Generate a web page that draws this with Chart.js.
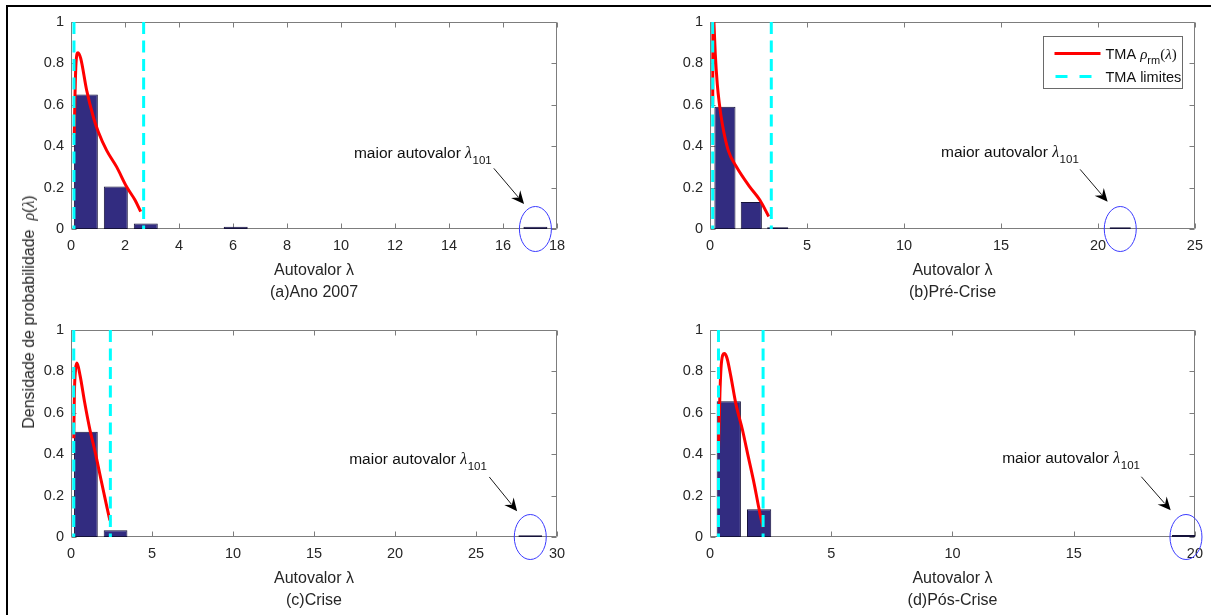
<!DOCTYPE html>
<html>
<head>
<meta charset="utf-8">
<style>
html,body{margin:0;padding:0;background:#fff;width:1211px;height:615px;overflow:hidden;position:relative}
canvas{position:absolute}
#frame{position:absolute;left:6px;top:5px;width:1215px;height:620px;border-top:2px solid #000;border-left:2px solid #000;box-sizing:border-box}
#ylab{position:absolute;left:29px;top:312px;transform:translate(-50%,-50%) rotate(-90deg);white-space:nowrap;font:16px "Liberation Sans",Arial,sans-serif;color:#262626}
#ylab i{font-family:"Liberation Serif",serif}
</style>
<script src="https://cdn.jsdelivr.net/npm/chart.js"></script>
</head>
<body>
<div id="frame"></div>
<canvas id="cA" width="605" height="307" style="left:0;top:0"></canvas>
<canvas id="cB" width="606" height="307" style="left:605px;top:0"></canvas>
<canvas id="cC" width="605" height="307" style="left:0;top:308px"></canvas>
<canvas id="cD" width="606" height="307" style="left:605px;top:308px"></canvas>
<div id="ylab">Densidade de probabilidade&nbsp;&nbsp;<i>ρ</i>(<i>λ</i>)</div>
<script>
// ---------------- data ----------------
const yTicks = [0, 0.2, 0.4, 0.6, 0.8, 1];

// (a) Ano 2007
const xTicksA = [0, 2, 4, 6, 8, 10, 12, 14, 16, 18];
const binsA = [0.55, 1.66, 2.77, 6.10, 17.20];
const densA = [0.650, 0.205, 0.027, 0.011, 0.011];
const mpXA = [0.12, 0.15, 0.185, 0.26, 0.36, 0.58, 0.83, 1.01, 1.32, 1.69, 2.06, 2.37, 2.58];
const mpYA = [0.454, 0.655, 0.80, 0.852, 0.824, 0.67, 0.54, 0.47, 0.38, 0.30, 0.204, 0.14, 0.084];
const limA = [0.11, 2.69];

// (b) Pré-Crise
const xTicksB = [0, 5, 10, 15, 20, 25];
const binsB = [0.77, 2.13, 3.49, 21.15];
const densB = [0.590, 0.131, 0.009, 0.009];
const mpXB = [0.14, 0.155, 0.205, 0.27, 0.375, 0.48, 0.63, 0.94, 1.37, 2.05, 2.57, 3.03];
const mpYB = [0.60, 1.10, 0.994, 0.85, 0.70, 0.607, 0.51, 0.38, 0.30, 0.204, 0.14, 0.06];
const limB = [0.14, 3.16];

// (c) Crise
const xTicksC = [0, 5, 10, 15, 20, 25, 30];
const binsC = [0.92, 2.75, 28.35];
const densC = [0.509, 0.0325, 0.008];
const mpXC = [0.17, 0.21, 0.28, 0.37, 0.57, 0.85, 1.15, 1.51, 1.86, 2.17, 2.40];
const mpYC = [0.477, 0.695, 0.81, 0.84, 0.776, 0.647, 0.525, 0.404, 0.274, 0.161, 0.08];
const limC = [0.17, 2.43];

// (d) Pós-Crise
const xTicksD = [0, 5, 10, 15, 20];
const binsD = [0.775, 2.025, 19.55];
const densD = [0.656, 0.134, 0.010];
const mpXD = [0.35, 0.41, 0.47, 0.59, 0.70, 0.86, 1.06, 1.34, 1.58, 1.82, 1.98, 2.12, 2.19];
const mpYD = [0.42, 0.695, 0.84, 0.886, 0.865, 0.776, 0.647, 0.517, 0.387, 0.258, 0.161, 0.08, 0.048];
const limD = [0.35, 2.19];

const titles = {
  A: ['Autovalor λ', '(a)Ano 2007'],
  B: ['Autovalor λ', '(b)Pré-Crise'],
  C: ['Autovalor λ', '(c)Crise'],
  D: ['Autovalor λ', '(d)Pós-Crise']
};

// annotation anchors (data units): text start, arrow tail, arrow head
const annA = {eig: 17.20, text: [10.48, 0.343], tail: [15.66, 0.293], head: [16.78, 0.121]};
const annB = {eig: 21.15, text: [11.91, 0.350], tail: [19.08, 0.288], head: [20.50, 0.132]};
const annC = {eig: 28.35, text: [17.17, 0.352], tail: [25.82, 0.290], head: [27.54, 0.124]};
const annD = {eig: 19.63, text: [12.05, 0.358], tail: [17.79, 0.291], head: [19.00, 0.129]};

// ---------------- styling ----------------
const FONT = '"Liberation Sans", Arial, Helvetica, sans-serif';
const SERIF = '"Liberation Serif", "DejaVu Serif", serif';
const TXT = '#262626';
const AXC = '#7d7d7d';
const BAR = '#322c80';
const BAR_EDGE = '#15123a';
const RED = '#ff0000';
const CYAN = '#00ffff';
const DASH = [12, 6.5];

const boxPlugin = {
  id: 'matlabBox',
  beforeDatasetsDraw(chart) {
    const {ctx, chartArea: a, scales: {x, y}} = chart;
    ctx.save();
    ctx.strokeStyle = AXC;
    ctx.lineWidth = 1;
    const L = Math.round(a.left) + 0.5, R = Math.round(a.right) - 0.5;
    const T = Math.round(a.top) + 0.5, B = Math.round(a.bottom) - 0.5;
    const tl = 5;
    ctx.beginPath();
    ctx.rect(L, T, R - L, B - T);
    x.ticks.forEach(t => {
      const px = Math.round(x.getPixelForValue(t.value)) + 0.5;
      ctx.moveTo(px, B); ctx.lineTo(px, B - tl);
      ctx.moveTo(px, T); ctx.lineTo(px, T + tl);
    });
    y.ticks.forEach(t => {
      const py = Math.round(y.getPixelForValue(t.value)) + 0.5;
      ctx.moveTo(L, py); ctx.lineTo(L + tl, py);
      ctx.moveTo(R, py); ctx.lineTo(R - tl, py);
    });
    ctx.stroke();
    ctx.restore();
  }
};

function annotPlugin(ann) {
  return {
    id: 'bigEigAnnot',
    afterDraw(chart) {
      const {ctx, scales: {x, y}} = chart;
      ctx.save();
      // ellipse around the largest eigenvalue
      const cx = x.getPixelForValue(ann.eig), cy = y.getPixelForValue(0);
      ctx.strokeStyle = '#3a3aff';
      ctx.lineWidth = 1;
      ctx.beginPath();
      ctx.ellipse(cx, cy, 16, 22.5, 0, 0, Math.PI * 2);
      ctx.stroke();
      // arrow
      const x0 = x.getPixelForValue(ann.tail[0]), y0 = y.getPixelForValue(ann.tail[1]);
      const x1 = x.getPixelForValue(ann.head[0]), y1 = y.getPixelForValue(ann.head[1]);
      const ang = Math.atan2(y1 - y0, x1 - x0);
      const hl = 13, hw = 6;
      ctx.strokeStyle = '#000';
      ctx.lineWidth = 0.9;
      ctx.beginPath();
      ctx.moveTo(x0, y0);
      ctx.lineTo(x1 - hl * 0.7 * Math.cos(ang), y1 - hl * 0.7 * Math.sin(ang));
      ctx.stroke();
      ctx.save();
      ctx.translate(x1, y1);
      ctx.rotate(ang);
      ctx.beginPath();
      ctx.moveTo(0, 0);
      ctx.lineTo(-hl, -hw);
      ctx.lineTo(-hl * 0.65, 0);
      ctx.lineTo(-hl, hw);
      ctx.closePath();
      ctx.fillStyle = '#000';
      ctx.fill();
      ctx.restore();
      // text
      const tx = x.getPixelForValue(ann.text[0]), ty = y.getPixelForValue(ann.text[1]);
      ctx.fillStyle = '#111';
      ctx.textAlign = 'left';
      ctx.textBaseline = 'alphabetic';
      ctx.font = '15.5px ' + FONT;
      const s1 = 'maior autovalor ';
      ctx.fillText(s1, tx, ty);
      let px = tx + ctx.measureText(s1).width;
      ctx.font = 'italic 16px ' + SERIF;
      ctx.fillText('λ', px, ty);
      px += ctx.measureText('λ').width + 0.5;
      ctx.font = '11.5px ' + FONT;
      ctx.fillText('101', px, ty + 6);
      ctx.restore();
    }
  };
}

const legendPlugin = {
  id: 'tmaLegend',
  afterDraw(chart) {
    const {ctx, chartArea: a} = chart;
    const bw = 139, bh = 52;
    const bx = Math.round(a.right) - 13 - bw + 0.5, by = Math.round(a.top) + 14 + 0.5;
    ctx.save();
    ctx.fillStyle = '#fff';
    ctx.fillRect(bx, by, bw, bh);
    ctx.strokeStyle = '#6a6a6a';
    ctx.lineWidth = 1;
    ctx.strokeRect(bx, by, bw, bh);
    // red entry
    ctx.strokeStyle = RED;
    ctx.lineWidth = 3;
    ctx.beginPath();
    ctx.moveTo(bx + 11, by + 17); ctx.lineTo(bx + 57, by + 17);
    ctx.stroke();
    // cyan entry
    ctx.strokeStyle = CYAN;
    ctx.setLineDash([12, 12]);
    ctx.beginPath();
    ctx.moveTo(bx + 12, by + 40); ctx.lineTo(bx + 60, by + 40);
    ctx.stroke();
    ctx.setLineDash([]);
    // texts
    ctx.fillStyle = '#111';
    ctx.textBaseline = 'alphabetic';
    ctx.textAlign = 'left';
    let px = bx + 62;
    const b1 = by + 22;
    ctx.font = '14.5px ' + FONT;
    ctx.fillText('TMA ', px, b1);
    px += ctx.measureText('TMA ').width;
    ctx.font = 'italic 15px ' + SERIF;
    ctx.fillText('ρ', px, b1);
    px += ctx.measureText('ρ').width;
    ctx.font = '11px ' + FONT;
    ctx.fillText('rm', px, b1 + 5);
    px += ctx.measureText('rm').width;
    ctx.font = '15px ' + SERIF;
    ctx.fillText('(', px, b1);
    px += ctx.measureText('(').width;
    ctx.font = 'italic 15px ' + SERIF;
    ctx.fillText('λ', px, b1);
    px += ctx.measureText('λ').width;
    ctx.font = '15px ' + SERIF;
    ctx.fillText(')', px, b1);
    ctx.font = '14.5px ' + FONT;
    ctx.fillText('TMA limites', bx + 62, by + 45);
    ctx.restore();
  }
};

function xy(xs, ys) { return xs.map((v, i) => ({x: v, y: ys[i]})); }

function makeChart(id, p) {
  const datasets = [
    {type: 'line', label: 'TMA limites', data: [{x: p.lim[0], y: 1}, {x: p.lim[0], y: 0}],
     borderColor: CYAN, borderWidth: 3, borderDash: DASH, pointRadius: 0, fill: false, clip: 0, order: 0},
    {type: 'line', label: 'TMA limites (sup)', data: [{x: p.lim[1], y: 1}, {x: p.lim[1], y: 0}],
     borderColor: CYAN, borderWidth: 3, borderDash: DASH, pointRadius: 0, fill: false, clip: 0, order: 1},
    {type: 'line', label: 'TMA ρrm(λ)', data: xy(p.mpX, p.mpY),
     borderColor: RED, borderWidth: 3, pointRadius: 0, fill: false, clip: 0,
     cubicInterpolationMode: 'monotone', order: 2},
    {type: 'bar', label: 'histograma', data: xy(p.bins, p.dens),
     backgroundColor: BAR, borderColor: BAR_EDGE, borderWidth: 1, borderSkipped: false,
     barPercentage: 0.8, categoryPercentage: 1, order: 3}
  ];
  const plugins = [boxPlugin, annotPlugin(p.ann)];
  if (p.legend) plugins.push(legendPlugin);
  return new Chart(document.getElementById(id), {
    type: 'bar',
    data: {datasets},
    options: {
      responsive: false,
      animation: false,
      devicePixelRatio: 1,
      layout: {padding: p.pad},
      plugins: {legend: {display: false}, tooltip: {enabled: false}, title: {display: false}},
      scales: {
        x: {
          type: 'linear', offset: false,
          min: p.xTicks[0], max: p.xTicks[p.xTicks.length - 1],
          afterBuildTicks: s => { s.ticks = p.xTicks.map(v => ({value: v})); },
          afterFit: s => { s.height = 78; },
          grid: {display: false, drawTicks: false},
          border: {display: false},
          ticks: {font: {family: FONT, size: 14.5}, color: TXT, padding: 8, maxRotation: 0, autoSkip: false,
                  callback: v => String(v)},
          title: {display: true, text: p.title, color: TXT,
                  font: {family: FONT, size: 16, lineHeight: 1.36}, padding: {top: 0, bottom: 4}}
        },
        y: {
          type: 'linear',
          min: yTicks[0], max: yTicks[yTicks.length - 1],
          afterBuildTicks: s => { s.ticks = yTicks.map(v => ({value: v})); },
          afterFit: s => { s.width = 60; },
          grid: {display: false, drawTicks: false},
          border: {display: false},
          ticks: {font: {family: FONT, size: 14.5}, color: TXT, padding: 7,
                  callback: v => String(Math.round(v * 10) / 10)}
        }
      }
    },
    plugins
  });
}

makeChart('cA', {xTicks: xTicksA, bins: binsA, dens: densA, mpX: mpXA, mpY: mpYA, lim: limA, ann: annA,
  title: titles.A, pad: {left: 11, right: 48, top: 22, bottom: 0}});
makeChart('cB', {xTicks: xTicksB, bins: binsB, dens: densB, mpX: mpXB, mpY: mpYB, lim: limB, ann: annB,
  title: titles.B, pad: {left: 45, right: 14, top: 22, bottom: 0}, legend: true});
makeChart('cC', {xTicks: xTicksC, bins: binsC, dens: densC, mpX: mpXC, mpY: mpYC, lim: limC, ann: annC,
  title: titles.C, pad: {left: 11, right: 48, top: 22, bottom: 0}});
makeChart('cD', {xTicks: xTicksD, bins: binsD, dens: densD, mpX: mpXD, mpY: mpYD, lim: limD, ann: annD,
  title: titles.D, pad: {left: 45, right: 14, top: 22, bottom: 0}});
</script>
</body>
</html>
